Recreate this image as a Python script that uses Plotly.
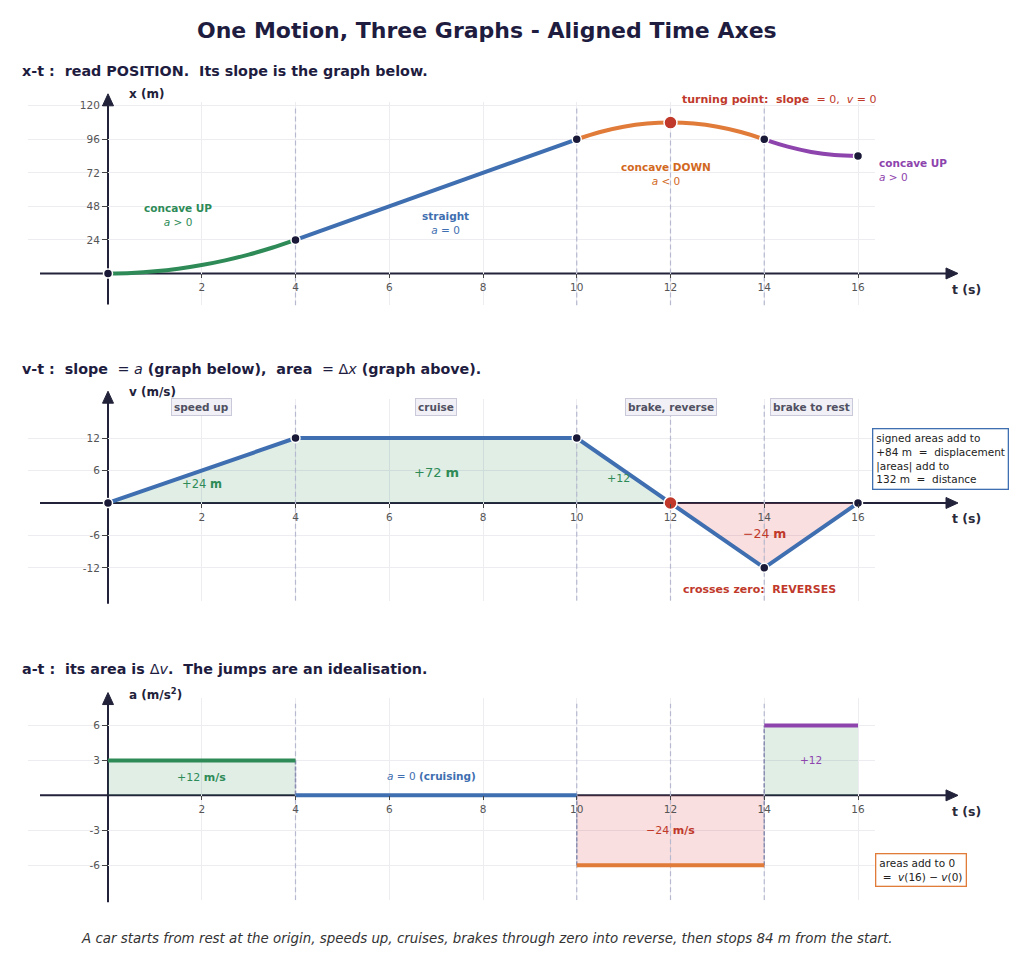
import plotly.graph_objects as go

# ---------------- data ----------------
# x-t samples (position, m)
t_up = [0, 0.5, 1, 1.5, 2, 2.5, 3, 3.5, 4]
x_up = [0, 0.375, 1.5, 3.375, 6, 9.375, 13.5, 18.375, 24]
t_str = [4, 10]
x_str = [24, 96]
t_down = [10, 10.5, 11, 11.5, 12, 12.5, 13, 13.5, 14]
x_down = [96, 101.25, 105, 107.25, 108, 107.25, 105, 101.25, 96]
t_rev = [14, 14.5, 15, 15.5, 16]
x_rev = [96, 90.75, 87, 84.75, 84]
x_knot_t = [0, 4, 10, 14, 16]
x_knot_x = [0, 24, 96, 96, 84]
turn_t = [12]
turn_x = [108]

# v-t
v_t = [0, 4, 10, 12, 14, 16]
v_v = [0, 12, 12, 0, -12, 0]
v_pos_t = [0, 4, 10, 12]
v_pos_v = [0, 12, 12, 0]
v_neg_t = [12, 14, 16]
v_neg_v = [0, -12, 0]
v_knot_t = [0, 4, 10, 14, 16]
v_knot_v = [0, 12, 12, -12, 0]

# a-t (piecewise constant)
a_seg_t0 = [0, 4, 10, 14]
a_seg_t1 = [4, 10, 14, 16]
a_vals = [3, 0, -6, 6]

x_ticks = [2, 4, 6, 8, 10, 12, 14, 16]
x_tick_y = [24, 48, 72, 96, 120]
v_tick_y = [-12, -6, 6, 12]
a_tick_y = [-6, -3, 3, 6]
phase_t = [4, 10, 12, 14]

# ---------------- styling ----------------
W, H = 1024, 965
OFF = 8  # page margin of the browser
FONT = "DejaVu Sans"
NAVY = "#1e1c3f"
AXIS = "#22223a"
GREEN = "#2e8b57"
BLUE = "#3f6fb0"
ORANGE = "#e07b39"
PURPLE = "#8e44ad"
RED = "#c0392b"
DOT = "#1a1a38"
GRID = "#ececf1"
DASH = "#b6b9cf"
JUMP = "#8a8eb0"
GFILL = "rgba(46,139,87,0.15)"
RFILL = "rgba(220,80,80,0.18)"


def px(p):
    return (p - OFF) / W


def py(p):
    return 1 - (p - OFF) / H


# plot-area geometry (screenshot px)
X0_PX, X1_PX = 28, 875
T0_PX, T_SCALE = 108, 46.875
t_range = [(X0_PX - T0_PX) / T_SCALE, (X1_PX - T0_PX) / T_SCALE]

panels = [
    # (top px, bottom px, zero px, px per unit, arrow tip px, arrow bottom px)
    (100, 304, 272, 1.4, 92, 303),
    (398, 600, 502, 65 / 12, 390, 603),
    (697, 900, 795, 70 / 6, 692, 902),
]
yranges = [[(z - b) / s, (z - t) / s] for (t, b, z, s, _, _) in panels]

fig = go.Figure()


def phase_lines(xa, ya, yr):
    ytop = yr[0] + 0.97 * (yr[1] - yr[0])
    for pt in phase_t:
        fig.add_trace(go.Scatter(x=[pt, pt], y=[yr[0], ytop], mode="lines",
                                 line=dict(color=DASH, width=1.2, dash="5px,3px"),
                                 xaxis=xa, yaxis=ya, hoverinfo="skip"))


# ---------- panel 1: x-t ----------
phase_lines("x", "y", yranges[0])
for tt, xx, col in [(t_up, x_up, GREEN), (t_str, x_str, BLUE),
                    (t_down, x_down, ORANGE), (t_rev, x_rev, PURPLE)]:
    fig.add_trace(go.Scatter(x=tt, y=xx, mode="lines",
                             line=dict(color=col, width=4, shape="spline"),
                             xaxis="x", yaxis="y", hoverinfo="skip"))
fig.add_trace(go.Scatter(x=x_knot_t, y=x_knot_x, mode="markers",
                         marker=dict(color=DOT, size=9, line=dict(color="white", width=1.5)),
                         xaxis="x", yaxis="y"))
fig.add_trace(go.Scatter(x=turn_t, y=turn_x, mode="markers",
                         marker=dict(color=RED, size=13, line=dict(color="white", width=1.5)),
                         xaxis="x", yaxis="y"))

# ---------- panel 2: v-t ----------
fig.add_trace(go.Scatter(x=v_pos_t, y=v_pos_v, mode="lines", fill="tozeroy",
                         fillcolor=GFILL, line=dict(width=0), xaxis="x2", yaxis="y2"))
fig.add_trace(go.Scatter(x=v_neg_t, y=v_neg_v, mode="lines", fill="tozeroy",
                         fillcolor=RFILL, line=dict(width=0), xaxis="x2", yaxis="y2"))
phase_lines("x2", "y2", yranges[1])
fig.add_trace(go.Scatter(x=v_t, y=v_v, mode="lines", line=dict(color=BLUE, width=4),
                         xaxis="x2", yaxis="y2"))
fig.add_trace(go.Scatter(x=v_knot_t, y=v_knot_v, mode="markers",
                         marker=dict(color=DOT, size=9, line=dict(color="white", width=1.5)),
                         xaxis="x2", yaxis="y2"))
fig.add_trace(go.Scatter(x=[12], y=[0], mode="markers",
                         marker=dict(color=RED, size=13, line=dict(color="white", width=1.5)),
                         xaxis="x2", yaxis="y2"))

# ---------- panel 3: a-t ----------
a_cols = [GREEN, BLUE, ORANGE, PURPLE]
a_fills = [GFILL, None, RFILL, GFILL]
for t0, t1, av, fc in zip(a_seg_t0, a_seg_t1, a_vals, a_fills):
    if fc:
        fig.add_trace(go.Scatter(x=[t0, t1], y=[av, av], mode="lines", fill="tozeroy",
                                 fillcolor=fc, line=dict(width=0), xaxis="x3", yaxis="y3"))
phase_lines("x3", "y3", yranges[2])
# dashed jumps between the constant pieces
for k in range(1, len(a_vals)):
    fig.add_trace(go.Scatter(x=[a_seg_t0[k], a_seg_t0[k]], y=[a_vals[k - 1], a_vals[k]],
                             mode="lines", line=dict(color=JUMP, width=1.5, dash="4px,2px"),
                             xaxis="x3", yaxis="y3", hoverinfo="skip"))
for t0, t1, av, col in zip(a_seg_t0, a_seg_t1, a_vals, a_cols):
    fig.add_trace(go.Scatter(x=[t0, t1], y=[av, av], mode="lines",
                             line=dict(color=col, width=4), xaxis="x3", yaxis="y3"))

# ---------- axes ----------
layout = dict(width=W, height=H, showlegend=False, plot_bgcolor="rgba(0,0,0,0)",
              paper_bgcolor="white", margin=dict(l=0, r=0, t=0, b=0),
              font=dict(family=FONT, color="#555"))

yticks_list = [x_tick_y, v_tick_y, a_tick_y]
shapes = []
for i, (top, bot, zero, sc, tip, abot) in enumerate(panels):
    sfx = "" if i == 0 else str(i + 1)
    layout["xaxis" + sfx] = dict(
        domain=[px(X0_PX), px(X1_PX)], range=t_range, anchor="free",
        position=py(zero), tickvals=x_ticks, showgrid=True, gridcolor=GRID,
        zeroline=False, showline=False, ticks="outside", ticklen=4,
        tickcolor="#444", tickfont=dict(size=10.5, color="#555"),
        fixedrange=True)
    layout["yaxis" + sfx] = dict(
        domain=[py(bot), py(top)], range=yranges[i], anchor="free", position=px(T0_PX),
        tickvals=yticks_list[i], ticktext=[str(v) for v in yticks_list[i]],
        showgrid=True, gridcolor=GRID, zeroline=False,
        showline=False, ticks="outside", ticklen=6, tickcolor="#444",
        tickfont=dict(size=10.5, color="#555"), fixedrange=True)
    # axis lines (drawn beneath the traces)
    shapes.append(dict(type="line", xref="paper", yref="paper",
                       x0=px(40), x1=px(950), y0=py(zero), y1=py(zero),
                       line=dict(color=AXIS, width=2), layer="below"))
    shapes.append(dict(type="line", xref="paper", yref="paper",
                       x0=px(T0_PX), x1=px(T0_PX), y0=py(abot), y1=py(tip + 8),
                       line=dict(color=AXIS, width=2), layer="below"))
    # arrow heads
    shapes.append(dict(type="path", xref="paper", yref="paper",
                       path=f"M {px(958)},{py(zero)} L {px(946)},{py(zero - 5.5)} "
                            f"L {px(946)},{py(zero + 5.5)} Z",
                       fillcolor=AXIS, line=dict(color=AXIS, width=1), layer="above"))
    shapes.append(dict(type="path", xref="paper", yref="paper",
                       path=f"M {px(T0_PX)},{py(tip)} L {px(T0_PX - 5.5)},{py(tip + 12)} "
                            f"L {px(T0_PX + 5.5)},{py(tip + 12)} Z",
                       fillcolor=AXIS, line=dict(color=AXIS, width=1), layer="above"))

layout["shapes"] = shapes

ann = []


def A(text, x, y, xref="paper", yref="paper", size=11, color=NAVY, **kw):
    d = dict(text=text, x=x, y=y, xref=xref, yref=yref, showarrow=False,
             xanchor="center", yanchor="middle",
             font=dict(family=FONT, size=size, color=color))
    d.update(kw)
    ann.append(d)


for top, bot, zero, sc, tip, abot in panels:
    A("<b>t (s)</b>", px(966), py(zero + 16), size=12.5, color="#2a2a3a")

# titles
A("<b>One Motion, Three Graphs - Aligned Time Axes</b>", px(487), py(29), size=22)
A("<b>x-t :  read POSITION.  Its slope is the graph below.</b>", px(20), py(69),
  size=14.3, xanchor="left")
A("<b>v-t :  slope </b> = <i>a</i><b> (graph below),  area </b> = Δ<i>x</i><b> (graph above).</b>",
  px(20), py(368), size=14.3, xanchor="left")
A("<b>a-t :  its area is </b>Δ<i>v</i><b>.  The jumps are an idealisation.</b>",
  px(20), py(668), size=14.3, xanchor="left")
A("<i>A car starts from rest at the origin, speeds up, cruises, brakes through zero into reverse, then stops 84 m from the start.</i>",
  px(486), py(938), size=13.4, color="#333")

# y-axis titles
A("<b>x (m)</b>", px(127), py(92), size=12, xanchor="left", color=AXIS)
A("<b>v (m/s)</b>", px(127), py(391), size=12, xanchor="left", color=AXIS)
A("<b>a (m/s<sup>2</sup>)</b>", px(127), py(693), size=12, xanchor="left", color=AXIS)

# panel 1 labels
A("<b>concave UP</b><br><i>a</i> > 0", 1.5, 42, "x", "y", size=10.5, color=GREEN)
A("<b>straight</b><br><i>a</i> = 0", 7.2, 36, "x", "y", size=10.5, color=BLUE)
A("<b>concave DOWN</b><br><i>a</i> < 0", 11.9, 71, "x", "y", size=10.5, color="#d2691e")
A("<b>concave UP</b><br><i>a</i> > 0", px(877), py(168), size=10.5, color=PURPLE,
  xanchor="left", align="left")
A("<b>turning point:  slope </b> = 0,  <i>v</i> = 0", px(779), py(98),
  size=11, color=RED)

# panel 2 labels
for txt, tx in [("speed up", 2), ("cruise", 7), ("brake, reverse", 12), ("brake to rest", 15)]:
    A("<b>" + txt + "</b>", tx, 17.7, "x2", "y2", size=10.5, color="#505062",
      bgcolor="#f0f0f6", bordercolor="#c9c9d9", borderwidth=1, borderpad=2)
A("+24 <b>m</b>", 2, 3.5, "x2", "y2", size=11.5, color=GREEN)
A("+72 <b>m</b>", 7, 5.7, "x2", "y2", size=13, color=GREEN)
A("+12", 10.9, 4.6, "x2", "y2", size=11, color=GREEN)
A("−24 <b>m</b>", 14, -5.7, "x2", "y2", size=12.5, color=RED)
A("<b>crosses zero:  REVERSES</b>", 13.9, -16, "x2", "y2", size=11, color=RED)
A("signed areas add to<br>+84 m  =  displacement<br>|areas| add to<br>132 m  =  distance",
  px(940), py(458), size=10.5, color="#222", align="left", bgcolor="white",
  bordercolor=BLUE, borderwidth=1.3, borderpad=3)

# panel 3 labels
A("+12 <b>m/s</b>", 2, 1.55, "x3", "y3", size=11, color=GREEN)
A("<i>a</i> = 0 <b>(cruising)</b>", 6.9, 1.65, "x3", "y3", size=10.5, color=BLUE)
A("−24 <b>m/s</b>", 12, -3.0, "x3", "y3", size=11, color=RED)
A("+12", 15, 3.0, "x3", "y3", size=10.5, color=PURPLE)
A("areas add to 0<br> =  <i>v</i>(16) − <i>v</i>(0)", px(921), py(870), size=10.5,
  color="#222", align="left", bgcolor="white", bordercolor=ORANGE,
  borderwidth=1.3, borderpad=3)

layout["annotations"] = ann
fig.update_layout(**layout)
fig.write_html("out.html")
